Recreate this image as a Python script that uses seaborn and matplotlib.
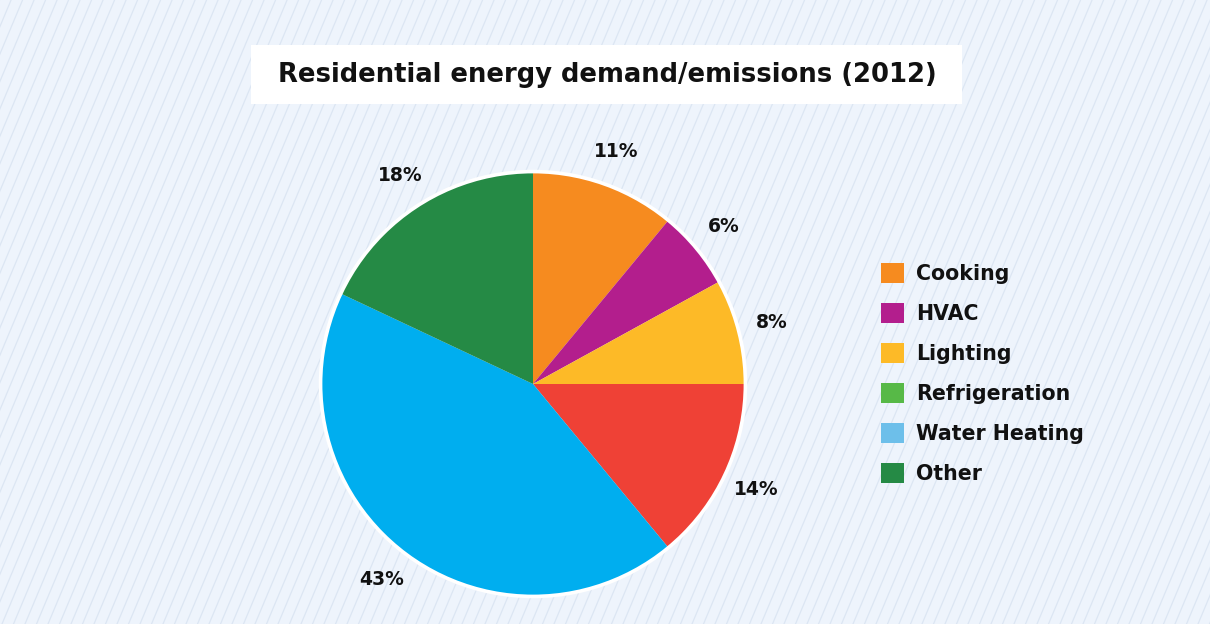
import matplotlib
matplotlib.use("Agg")
import matplotlib.pyplot as plt
from matplotlib.patches import Patch, Rectangle, Circle
import seaborn as sns

# Residential end uses, 2012 (share of total, %)
categories = ["Cooking", "HVAC", "Lighting", "Refrigeration", "Water Heating", "Other"]
shares = [11, 6, 8, 14, 43, 18]
wedge_colors = ["#F68B1F", "#B31E8D", "#FDBA27", "#EF4136", "#00AEEF", "#258A45"]
legend_colors = ["#F68B1F", "#B31E8D", "#FDBA27", "#57B947", "#6DBFEA", "#258A45"]
title = "Residential energy demand/emissions (2012)"

sns.set_theme(style="white")
plt.rcParams["font.family"] = ["DejaVu Sans"]

W, H = 1210, 624
fig = plt.figure(figsize=(W / 100, H / 100), dpi=100)
bg = "#EEF4FC"
fig.patch.set_facecolor(bg)

# Background: pale panel with thin diagonal pinstripes
bg_ax = fig.add_axes([0, 0, 1, 1], zorder=0)
bg_ax.set_xlim(0, W)
bg_ax.set_ylim(H, 0)
bg_ax.set_facecolor(bg)
bg_ax.axis("off")
slope = 0.42
x0 = -320.0
while x0 < W + 50:
    bg_ax.plot([x0, x0 + H * slope], [H, 0], color="#DCE6F3", lw=0.9, zorder=0)
    x0 += 11.5

# Title banner
bg_ax.add_patch(Rectangle((251, 45), 711, 59, facecolor="white", edgecolor="none", zorder=1))
bg_ax.text(607, 75, title, ha="center", va="center", fontsize=18.6,
           fontweight="bold", color="#111111", zorder=2)

# Pie axes positioned so the pie sits left of center
cx, cy, R = 533, 384, 212
L = 1.35
half = L * R
ax = fig.add_axes([(cx - half) / W, (H - cy - half) / H, 2 * half / W, 2 * half / H], zorder=2)

wedges, texts = ax.pie(
    shares,
    colors=wedge_colors,
    startangle=90,
    counterclock=False,
    labels=[f"{v}%" for v in shares],
    labeldistance=1.165,
    wedgeprops=dict(linewidth=0, edgecolor="none"),
    textprops=dict(fontsize=13.5, fontweight="bold", color="#111111"),
    radius=1.0,
)
ax.set_xlim(-L, L)
ax.set_ylim(-L, L)
ax.set_aspect("equal")
ax.axis("off")
for t in texts:
    t.set_ha("center")
    t.set_va("center")
# white rim around the disc
ax.add_patch(Circle((0, 0), 1.002, fill=False, edgecolor="white", lw=2.6, zorder=5))

# Legend
handles = [Patch(facecolor=c, edgecolor="none", label=n) for n, c in zip(categories, legend_colors)]
fig.legend(
    handles=handles,
    loc="upper left",
    bbox_to_anchor=(881 / W, 1 - 263 / H),
    frameon=False,
    prop=dict(size=14.8, weight="bold"),
    handlelength=1.12,
    handleheight=1.12,
    handletextpad=0.58,
    labelspacing=0.93,
    borderpad=0,
    borderaxespad=0,
)
for txt in fig.legends[0].get_texts():
    txt.set_color("#111111")

fig.savefig("out.png", dpi=100, facecolor=bg)
